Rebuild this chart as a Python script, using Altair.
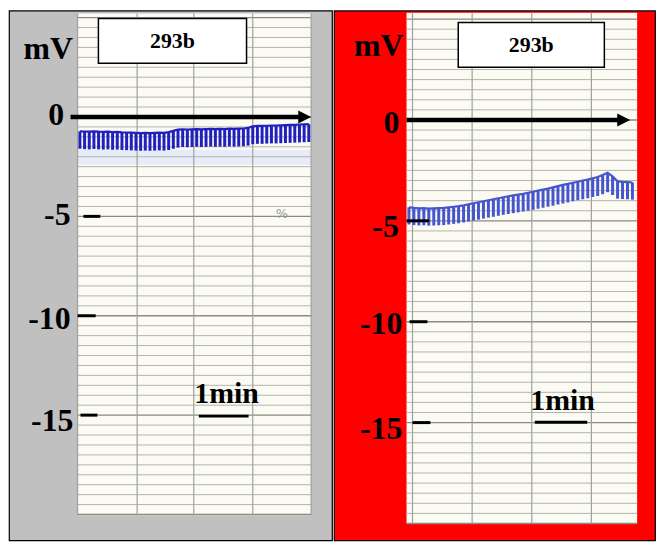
import altair as alt
import numpy as np
import pandas as pd

# ---------------- data ----------------
# Left panel (grey): pen trace, top and bottom of each oscillation stroke (mV)
L_top = [-0.72, -0.73, -0.74, -0.72, -0.74, -0.75, -0.74, -0.76, -0.75, -0.77,
         -0.78, -0.79, -0.80, -0.81, -0.80, -0.81, -0.80, -0.79, -0.80, -0.76,
         -0.70, -0.64, -0.62, -0.63, -0.62, -0.61, -0.62, -0.61, -0.60, -0.61,
         -0.60, -0.61, -0.59, -0.60, -0.59, -0.58, -0.55, -0.47, -0.45, -0.45,
         -0.44, -0.43, -0.43, -0.42, -0.41, -0.40, -0.40, -0.38, -0.37, -0.36]
L_bot = [-1.60, -1.62, -1.63, -1.61, -1.63, -1.64, -1.63, -1.65, -1.64, -1.66,
         -1.67, -1.68, -1.69, -1.70, -1.69, -1.70, -1.69, -1.68, -1.69, -1.66,
         -1.60, -1.54, -1.51, -1.52, -1.51, -1.50, -1.51, -1.50, -1.49, -1.50,
         -1.49, -1.50, -1.48, -1.49, -1.48, -1.47, -1.44, -1.37, -1.35, -1.35,
         -1.34, -1.33, -1.33, -1.32, -1.31, -1.30, -1.29, -1.28, -1.27, -1.26]
# Right panel (red)
R_top = [-4.33, -4.36, -4.38, -4.37, -4.39, -4.38, -4.37, -4.36, -4.33, -4.30,
         -4.27, -4.23, -4.18, -4.13, -4.08, -4.03, -3.98, -3.93, -3.88, -3.83,
         -3.78, -3.74, -3.70, -3.66, -3.61, -3.56, -3.50, -3.45, -3.40, -3.34,
         -3.28, -3.22, -3.17, -3.11, -3.06, -3.00, -2.95, -2.89, -2.83, -2.73,
         -2.62, -2.80, -3.04, -3.07, -3.08, -3.10]
R_bot = [-5.18, -5.21, -5.23, -5.22, -5.24, -5.23, -5.22, -5.21, -5.18, -5.15,
         -5.12, -5.08, -5.03, -4.99, -4.94, -4.89, -4.84, -4.80, -4.75, -4.70,
         -4.66, -4.62, -4.58, -4.54, -4.50, -4.45, -4.40, -4.35, -4.30, -4.25,
         -4.19, -4.14, -4.09, -4.03, -3.98, -3.93, -3.88, -3.82, -3.77, -3.68,
         -3.58, -3.72, -3.90, -3.92, -3.93, -3.95]

tick_values = [0, -5, -10, -15]
tick_labels = ["0", "-5", "-10", "-15"]
label_text = "293b"
unit_text = "mV"
scale_text = "1min"

FONT = "Liberation Serif"


def panel(p):
    xs = alt.Scale(domain=p["xdom"], nice=False, zero=False)
    ys = alt.Scale(domain=p["ydom"], nice=False, zero=False)

    def X(f="x"):
        return alt.X(f"{f}:Q", scale=xs, axis=None)

    def Y(f="y"):
        return alt.Y(f"{f}:Q", scale=ys, axis=None)

    layers = []
    # paper
    paper = pd.DataFrame({"x": [p["paper_x"][0]], "x2": [p["paper_x"][1]],
                          "y": [p["paper_y"][0]], "y2": [p["paper_y"][1]]})
    layers.append(alt.Chart(paper).mark_rect(fill="#fbfbf4").encode(
        x=X(), x2="x2", y=Y(), y2="y2"))
    # pale band under trace
    if p.get("band"):
        b = pd.DataFrame({"x": [p["paper_x"][0]], "x2": [p["paper_x"][1]],
                          "y": [p["band"][0]], "y2": [p["band"][1]]})
        layers.append(alt.Chart(b).mark_rect(fill="#e6ecf8").encode(
            x=X(), x2="x2", y=Y(), y2="y2"))
    # horizontal chart-paper lines every 0.5 mV
    hy = np.arange(-20.0, p["paper_y"][1], 0.5)
    hg = pd.DataFrame({"y": hy, "x": p["paper_x"][0], "x2": p["paper_x"][1]})
    hg["major"] = (np.abs(hg["y"] % 5) < 1e-9)
    layers.append(alt.Chart(hg[~hg["major"]]).mark_rule(
        color="#b3b3ac", strokeWidth=1).encode(x=X(), x2="x2", y=Y()))
    layers.append(alt.Chart(hg[hg["major"]]).mark_rule(
        color="#8a8a82", strokeWidth=1.4).encode(x=X(), x2="x2", y=Y()))
    # vertical chart-paper lines
    vg = pd.DataFrame({"x": p["vgrid"], "y": p["paper_y"][0], "y2": p["paper_y"][1]})
    layers.append(alt.Chart(vg).mark_rule(color="#a0a09c", strokeWidth=1.2).encode(
        x=X(), y=Y(), y2="y2"))
    # trace
    n = len(p["top"])
    tr = pd.DataFrame({"x": p["t0"] + p["dt"] * np.arange(n),
                       "top": p["top"], "bot": p["bot"]})
    layers.append(alt.Chart(tr).mark_rule(color=p["pen"], strokeWidth=3).encode(
        x=X(), y=Y("top"), y2="bot"))
    layers.append(alt.Chart(tr).mark_line(color=p["pen"], strokeWidth=2.2).encode(
        x=X(), y=Y("top")))
    # zero arrow
    ar = pd.DataFrame({"x": [p["arrow"][0]], "x2": [p["arrow"][1]], "y": [0.0]})
    layers.append(alt.Chart(ar).mark_rule(color="black", strokeWidth=4.5).encode(
        x=X(), x2="x2", y=Y()))
    hd = pd.DataFrame({"x": [p["arrow"][2]], "y": [0.0]})
    layers.append(alt.Chart(hd).mark_point(
        shape="M 1 0 L -1 -1 L -1 1 Z", filled=True, color="black", opacity=1,
        size=169, strokeWidth=0).encode(x=X(), y=Y()))
    # short tick dashes at -5, -10, -15
    td = pd.DataFrame({"y": tick_values[1:], "x": [a for a, _ in p["dash"]],
                       "x2": [b for _, b in p["dash"]]})
    layers.append(alt.Chart(td).mark_rule(color="black", strokeWidth=3).encode(
        x=X(), x2="x2", y=Y()))
    # tick labels
    tl = pd.DataFrame({"y": [v + d for v, d in zip(tick_values, p["lab_dy"])],
                       "x": p["lab_x"], "t": tick_labels})
    layers.append(alt.Chart(tl).mark_text(
        font=FONT, fontWeight="bold", fontSize=32, align="right", baseline="middle",
        color="black").encode(x=X(), y=Y(), text="t:N"))
    # unit label
    ul = pd.DataFrame({"x": [p["unit"][0]], "y": [p["unit"][1]], "t": [unit_text]})
    layers.append(alt.Chart(ul).mark_text(
        font=FONT, fontWeight="bold", fontSize=32, align="right", baseline="middle",
        color="black").encode(x=X(), y=Y(), text="t:N"))
    # label box
    bx = pd.DataFrame({"x": [p["box"][0]], "x2": [p["box"][1]],
                       "y": [p["box"][2]], "y2": [p["box"][3]]})
    layers.append(alt.Chart(bx).mark_rect(fill="white", stroke="black",
                                          strokeWidth=1.5).encode(
        x=X(), x2="x2", y=Y(), y2="y2"))
    bt = pd.DataFrame({"x": [(p["box"][0] + p["box"][1]) / 2],
                       "y": [(p["box"][2] + p["box"][3]) / 2], "t": [label_text]})
    layers.append(alt.Chart(bt).mark_text(
        font=FONT, fontWeight="bold", fontSize=22, align="center", baseline="middle",
        color="black").encode(x=X(), y=Y(), text="t:N"))
    # 1 min scale bar
    sb = pd.DataFrame({"x": [p["bar"][0]], "x2": [p["bar"][1]], "y": [p["bar"][2]]})
    layers.append(alt.Chart(sb).mark_rule(color="black", strokeWidth=3).encode(
        x=X(), x2="x2", y=Y()))
    st = pd.DataFrame({"x": [p["bar_text"][0]], "y": [p["bar_text"][1]],
                       "t": [scale_text]})
    layers.append(alt.Chart(st).mark_text(
        font=FONT, fontWeight="bold", fontSize=30, align="center",
        baseline="alphabetic", color="black").encode(x=X(), y=Y(), text="t:N"))
    if p.get("pct"):
        pc = pd.DataFrame({"x": [p["pct"][0]], "y": [p["pct"][1]], "t": ["%"]})
        layers.append(alt.Chart(pc).mark_text(
            font="DejaVu Sans", fontSize=13, align="center", baseline="middle",
            color="#9a9a9a").encode(x=X(), y=Y(), text="t:N"))

    return alt.layer(*layers).properties(
        width=p["w"], height=p["h"],
        view=alt.ViewBackground(fill=p["bg"], stroke="black", strokeWidth=1.2))


H = 533
left = dict(
    w=325, h=H, bg="#c0c0c0", pen="#2020bf",
    xdom=[-69 / 58.75, 256 / 58.75], ydom=[(115 - 8 - H) / 20, (115 - 8) / 20],
    paper_x=[0, 4], paper_y=[-20.05, 5.2], vgrid=[0, 1.02, 1.99, 3.0, 4.0],
    top=L_top, bot=L_bot, t0=0.04, dt=0.08, band=[-1.65, -2.4],
    arrow=[-0.12, 3.8, 3.89],
    dash=[(0.10, 0.39), (0.0, 0.31), (0.05, 0.34)],
    lab_x=[-0.23, -0.12, -0.12, -0.07], lab_dy=[0.1, 0.05, -0.15, -0.3],
    unit=[-0.08, 3.4],
    box=[0.357, 2.894, 4.95, 2.70],
    bar=[2.077, 2.928, -15.05], bar_text=[2.553, -14.4],
    pct=[3.5, -4.9],
)
right = dict(
    w=323, h=H, bg="#ff0000", pen="#4656cf",
    xdom=[(333 - 406) / 60, (656 - 406) / 60],
    ydom=[(118 - 8 - H) / 20.3, (118 - 8) / 20.3],
    paper_x=[0, 3.867], paper_y=[-20.0, 5.32], vgrid=[0.1, 1.1, 2.1, 3.1],
    top=R_top, bot=R_bot, t0=0.04, dt=0.0833,
    arrow=[0.0, 3.6, 3.642],
    dash=[(0.0, 0.38), (0.05, 0.35), (0.10, 0.40)],
    lab_x=[-0.12, -0.13, -0.07, -0.07], lab_dy=[-0.15, -0.3, -0.1, -0.3],
    unit=[-0.05, 3.65],
    box=[0.867, 3.317, 4.83, 2.61],
    bar=[2.15, 3.03, -14.98], bar_text=[2.617, -14.38],
)

chart = alt.hconcat(panel(left), panel(right), spacing=0).properties(
    padding=0, background="white")

chart.save("out.html", embed_options={"renderer": "svg", "actions": False})
